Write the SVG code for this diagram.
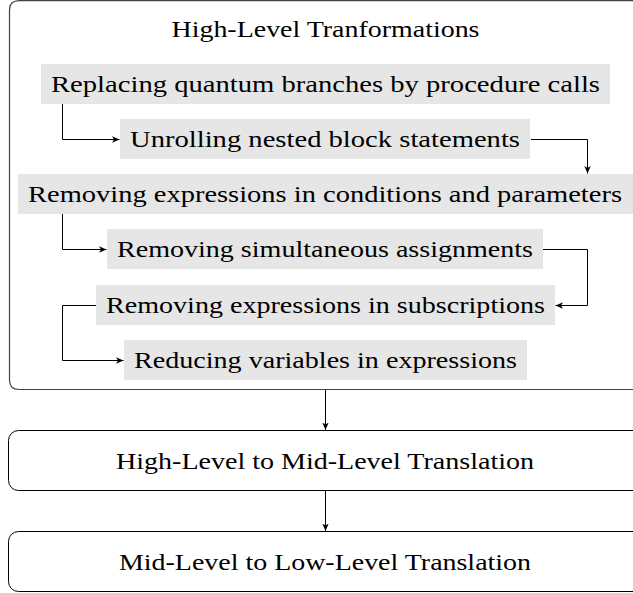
<svg xmlns="http://www.w3.org/2000/svg" width="633" height="593" viewBox="0 0 633 593">
<defs>
<style>
text{font-family:"Liberation Serif","Times New Roman",serif;font-size:24px;fill:#000;text-anchor:middle}
.step{fill:#e6e6e6;stroke:none}
.frame{fill:none;stroke:#444;stroke-width:1.2}
.box{fill:#fff;stroke:#000;stroke-width:1}
.conn{fill:none;stroke:#000;stroke-width:1}
</style>
<marker id="ah" viewBox="0 0 8 8" refX="7.5" refY="4" markerWidth="8" markerHeight="8" markerUnits="userSpaceOnUse" orient="auto">
<path d="M0,0.8 L7.5,4 L0,7.2 L2,4 Z" fill="#000"/>
</marker>
</defs>
<g id="frame-high-level">
<path class="frame" d="M640,0.6 H19 Q9.5,0.6 9.5,10 V380 Q9.5,389.5 19,389.5 H640"/>
<text x="325.5" y="37" textLength="308" lengthAdjust="spacingAndGlyphs">High-Level Tranformations</text>
</g>
<g id="step1">
<rect class="step" x="41" y="64" width="569" height="40"/>
<text x="325.5" y="92" textLength="549" lengthAdjust="spacingAndGlyphs">Replacing quantum branches by procedure calls</text>
</g>
<g id="step2">
<rect class="step" x="120" y="119" width="410" height="40"/>
<text x="325" y="147" textLength="390" lengthAdjust="spacingAndGlyphs">Unrolling nested block statements</text>
</g>
<g id="step3">
<rect class="step" x="18" y="174" width="615" height="40"/>
<text x="325" y="202" textLength="594" lengthAdjust="spacingAndGlyphs">Removing expressions in conditions and parameters</text>
</g>
<g id="step4">
<rect class="step" x="107" y="229" width="436" height="40"/>
<text x="325" y="257" textLength="416" lengthAdjust="spacingAndGlyphs">Removing simultaneous assignments</text>
</g>
<g id="step5">
<rect class="step" x="96" y="285" width="459" height="40"/>
<text x="325.5" y="313" textLength="439" lengthAdjust="spacingAndGlyphs">Removing expressions in subscriptions</text>
</g>
<g id="step6">
<rect class="step" x="124" y="340" width="403" height="40"/>
<text x="325.5" y="368" textLength="383" lengthAdjust="spacingAndGlyphs">Reducing variables in expressions</text>
</g>
<g id="high-to-mid">
<rect class="box" x="8.5" y="430.5" width="640" height="60" rx="10"/>
<text x="325" y="469" textLength="418" lengthAdjust="spacingAndGlyphs">High-Level to Mid-Level Translation</text>
</g>
<g id="mid-to-low">
<rect class="box" x="8.5" y="531.5" width="640" height="60" rx="10"/>
<text x="325" y="570" textLength="412" lengthAdjust="spacingAndGlyphs">Mid-Level to Low-Level Translation</text>
</g>
<g id="connectors">
<path class="conn" marker-end="url(#ah)" d="M62.5,104 V139.5 H119.5"/>
<path class="conn" marker-end="url(#ah)" d="M531,139.5 H587.5 V173.5"/>
<path class="conn" marker-end="url(#ah)" d="M62.5,214 V249.5 H106.5"/>
<path class="conn" marker-end="url(#ah)" d="M543,249.5 H587.5 V305.5 H555.5"/>
<path class="conn" marker-end="url(#ah)" d="M96,305.5 H62.5 V360.5 H123.5"/>
<path class="conn" marker-end="url(#ah)" d="M325.5,390 V430"/>
<path class="conn" marker-end="url(#ah)" d="M325.5,491 V531"/>
</g>
</svg>
